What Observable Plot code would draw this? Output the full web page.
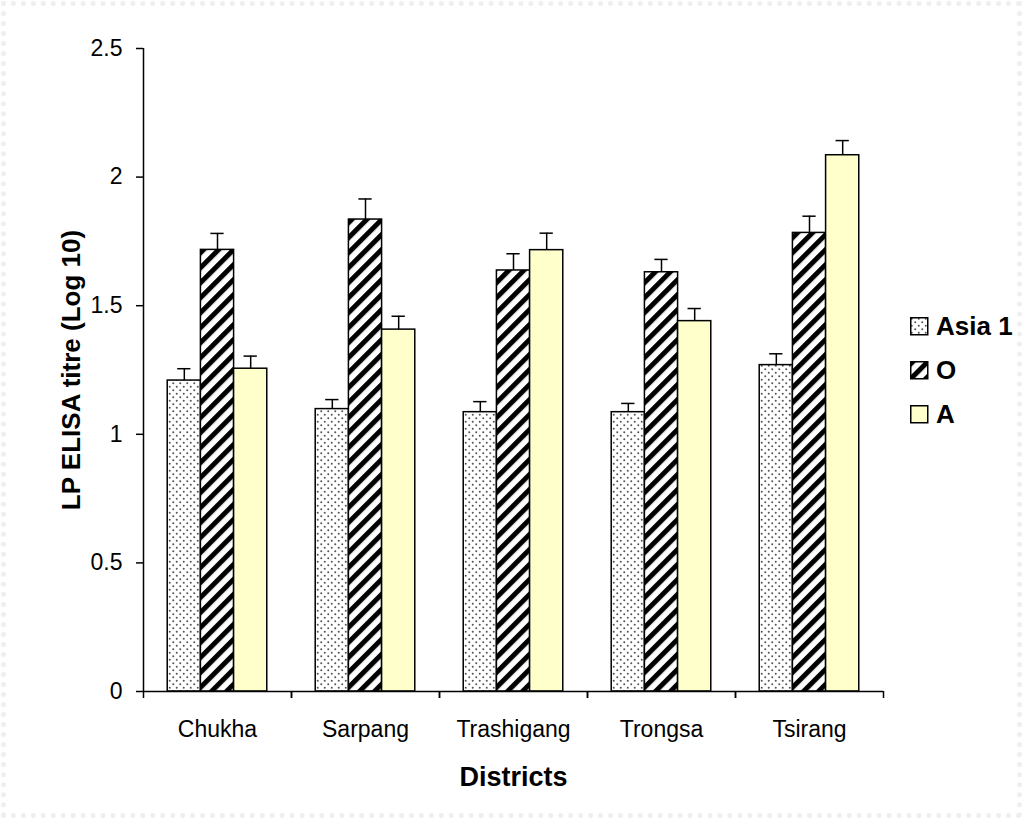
<!DOCTYPE html>
<html><head><meta charset="utf-8">
<script src="https://cdn.jsdelivr.net/npm/d3@7"></script>
<script src="https://cdn.jsdelivr.net/npm/@observablehq/plot@0.6"></script>
<style>
body{margin:0;background:#fff;font-family:"Liberation Sans",Arial,sans-serif;}
#wrap{position:relative;width:1023px;height:819px;overflow:hidden}
#border{position:absolute;left:1px;top:1px;right:1px;bottom:1px;border:5px dotted #efefef;pointer-events:none}
#chart{position:absolute;left:0;top:0}
#legend{position:absolute;left:910px;top:304px}
.row{display:flex;align-items:center;height:44px;font-weight:bold;font-size:26px;color:#000}
.row svg{margin-right:7px;display:block}
</style></head><body><div id="wrap"><div id="border"></div><div id="chart"></div><div id="legend"></div></div>
<script>
const districts = ["Chukha", "Sarpang", "Trashigang", "Trongsa", "Tsirang"];
const series = ["Asia 1", "O", "A"];
const asia1 = [1.209, 1.098, 1.086, 1.086, 1.269];
const asia1Err = [0.046, 0.037, 0.041, 0.034, 0.044];
const serO = [1.717, 1.835, 1.637, 1.630, 1.783];
const serOErr = [0.064, 0.080, 0.065, 0.050, 0.065];
const serA = [1.255, 1.407, 1.716, 1.440, 2.085];
const serAErr = [0.049, 0.052, 0.066, 0.049, 0.057];
const yTicks = [0, 0.5, 1, 1.5, 2, 2.5];
const fills = {"Asia 1": "url(#dots)", "O": "url(#stripes)", "A": "#FFFFCC"};

const vals = [asia1, serO, serA];
const errs = [asia1Err, serOErr, serAErr];
const rows = [];
districts.forEach((d, i) => series.forEach((s, j) => rows.push({district: d, series: s, idx: j, value: vals[j][i], err: errs[j][i]})));

const W = 1023, H = 819, mL = 143, mR = 140, mT = 48, mB = 128;
const pad = 0.73;
const step = (W - mL - mR) / districts.length;
const xMin = -0.5 - pad, xMax = 2.5 + pad;
const ax = {stroke: "#000", strokeWidth: 1.5};

const chart = Plot.plot({
  width: W, height: H, marginLeft: mL, marginRight: mR, marginTop: mT, marginBottom: mB,
  style: {fontFamily: "'Liberation Sans', Arial, sans-serif", color: "#000", background: "transparent", overflow: "visible"},
  fx: {domain: districts, padding: 0},
  x: {domain: [xMin, xMax], axis: null},
  y: {domain: [0, 2.5]},
  color: {type: "identity"},
  marks: [
    Plot.ruleX(rows, {fx: "district", x: "idx", y1: "value", y2: d => d.value + d.err, ...ax}),
    Plot.ruleY(rows, {fx: "district", y: d => d.value + d.err, x1: d => d.idx - 0.2, x2: d => d.idx + 0.2, ...ax}),
    Plot.rect(rows, {fx: "district", x1: d => d.idx - 0.5, x2: d => d.idx + 0.5, y1: 0, y2: "value", fill: d => fills[d.series], ...ax}),
    Plot.ruleY([0], ax),
    Plot.ruleX([xMin], {fx: () => districts[0], x: d => d, y1: 0, y2: 2.5, ...ax}),
    Plot.axisY({ticks: yTicks, tickSize: 7, tickPadding: 14, tickFormat: d => String(d), fontSize: 23, label: null, strokeWidth: 1.5}),
    Plot.axisY({ticks: yTicks, tickSize: 0, tickFormat: () => "", label: "LP ELISA titre (Log 10)", labelAnchor: "center", labelOffset: 82, labelArrow: "none", fontSize: 26, fontWeight: "bold"}),
    Plot.axisFx({anchor: "bottom", tickSize: 0, tickPadding: 29, fontSize: 23, label: null}),
    Plot.axisFx({anchor: "bottom", tickSize: 7, tickFormat: () => "", dx: -step / 2, label: null, strokeWidth: 1.5}),
    Plot.axisFx({anchor: "bottom", tickSize: 7, tickFormat: () => "", dx: step / 2, label: null, strokeWidth: 1.5}),
    Plot.axisFx({anchor: "bottom", tickSize: 0, tickFormat: () => "", label: "Districts", labelAnchor: "center", labelOffset: 94, labelArrow: "none", fontSize: 27, fontWeight: "bold"})
  ]
});

d3.select(chart).insert("defs", ":first-child").html(`
  <pattern id="dots" patternUnits="userSpaceOnUse" width="7" height="7">
    <rect width="7" height="7" fill="#fff"/>
    <circle cx="1.75" cy="1.75" r="1" fill="#555"/>
    <circle cx="5.25" cy="5.25" r="1" fill="#555"/>
  </pattern>
  <pattern id="stripes" patternUnits="userSpaceOnUse" width="10.6" height="10.6" patternTransform="rotate(45)">
    <rect width="10.6" height="10.6" fill="#fff"/>
    <rect width="5" height="10.6" fill="#000"/>
  </pattern>`);
document.getElementById("chart").appendChild(chart);

const legend = d3.select("#legend");
series.forEach(s => {
  const row = legend.append("div").attr("class", "row");
  const sw = row.append("svg").attr("width", 19).attr("height", 19);
  sw.append("rect").attr("x", 0.75).attr("y", 0.75).attr("width", 17).attr("height", 17)
    .attr("fill", fills[s]).attr("stroke", "#000").attr("stroke-width", 1.5);
  row.append("span").text(s);
});
</script></body></html>
